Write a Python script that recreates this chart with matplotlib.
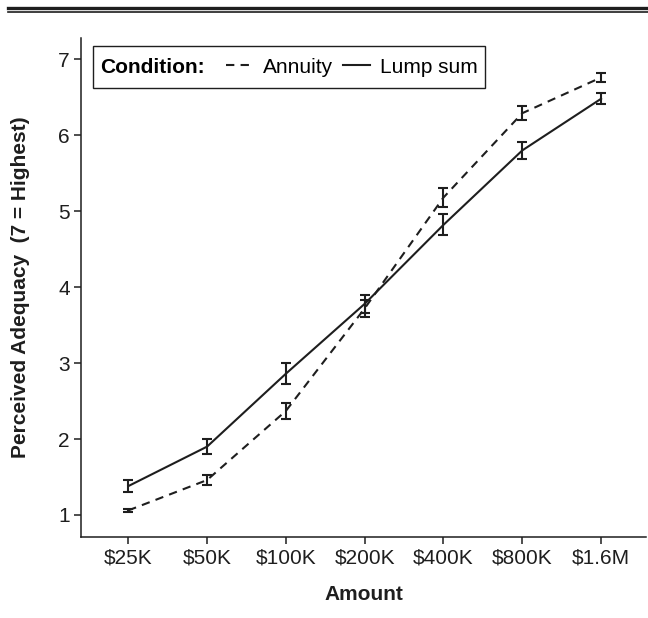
import matplotlib
matplotlib.use("Agg")
import matplotlib.pyplot as plt
from matplotlib.lines import Line2D
from matplotlib.offsetbox import HPacker, DrawingArea
import numpy as np

plt.rcParams['font.family'] = ['Liberation Sans', 'DejaVu Sans']

amounts = ["$25K", "$50K", "$100K", "$200K", "$400K", "$800K", "$1.6M"]
annuity = [1.06, 1.46, 2.37, 3.72, 5.18, 6.29, 6.76]
annuity_err = [0.025, 0.065, 0.11, 0.11, 0.12, 0.09, 0.055]
lump = [1.38, 1.90, 2.86, 3.78, 4.82, 5.80, 6.48]
lump_err = [0.08, 0.10, 0.135, 0.12, 0.14, 0.11, 0.075]
yticks = [1, 2, 3, 4, 5, 6, 7]

ink = "#1e1e1e"
fs = 15

fig = plt.figure(figsize=(6.48, 6.18), dpi=100)
ax = fig.add_axes([81/648, 1-537/618, (646-81)/648, (537-38)/618])

x = np.arange(len(amounts))
ax.errorbar(x, annuity, yerr=annuity_err, color=ink, lw=1.5, dashes=(4, 3),
            capsize=3.6, capthick=1.5, elinewidth=1.5, label="Annuity")
ax.errorbar(x, lump, yerr=lump_err, color=ink, lw=1.5,
            capsize=3.6, capthick=1.5, elinewidth=1.5, label="Lump sum")

ax.set_xlim(-0.6, 6.57)
ax.set_ylim(0.71, 7.28)
ax.set_xticks(x)
ax.set_xticklabels(amounts, fontsize=fs, color=ink)
ax.set_yticks(yticks)
ax.set_yticklabels([str(v) for v in yticks], fontsize=fs, color=ink)
ax.tick_params(axis='both', length=5, width=1.1, color=ink)
ax.tick_params(axis='x', pad=3)
ax.tick_params(axis='y', pad=3)
for s in ['top', 'right']:
    ax.spines[s].set_visible(False)
for s in ['left', 'bottom']:
    ax.spines[s].set_linewidth(1.1)
    ax.spines[s].set_color(ink)

ax.set_xlabel("Amount", fontsize=fs, fontweight='bold', color=ink, labelpad=13)
ax.set_ylabel("Perceived Adequacy  (7 = Highest)", fontsize=fs, fontweight='bold',
              color=ink, labelpad=20)

h_ann = Line2D([], [], color=ink, lw=1.5, dashes=(4, 3))
h_lump = Line2D([], [], color=ink, lw=1.5)
leg = ax.legend([h_ann, h_lump], ["Annuity", "Lump sum"], ncol=2,
                title="Condition:", loc='upper left',
                bbox_to_anchor=(12/565, 1-8/499),
                fontsize=fs, title_fontproperties={'size': fs, 'weight': 'bold'},
                frameon=True, fancybox=False, edgecolor=ink, framealpha=1,
                handlelength=1.3, handletextpad=0.5, columnspacing=0.45,
                borderpad=0.35, borderaxespad=0)
leg.get_frame().set_linewidth(1.0)
try:
    old = leg._legend_box
    spacer = DrawingArea(0, 20)
    inner = HPacker(pad=0, sep=1.0 * fs, align="center",
                    children=[leg._legend_title_box, leg._legend_handle_box])
    newbox = HPacker(pad=old.pad, sep=0, align="center", children=[spacer, inner])
    newbox.set_figure(fig)
    newbox.axes = ax
    newbox.set_offset(leg._findoffset)
    leg._legend_box = newbox
except Exception:
    pass

# double rule at top
fig.add_artist(Line2D([8/648, 1], [1-8/618, 1-8/618], color=ink, lw=2.4,
                      transform=fig.transFigure))
fig.add_artist(Line2D([8/648, 1], [1-11.8/618, 1-11.8/618], color=ink, lw=1.2,
                      transform=fig.transFigure))

fig.savefig("out.png", dpi=100)
